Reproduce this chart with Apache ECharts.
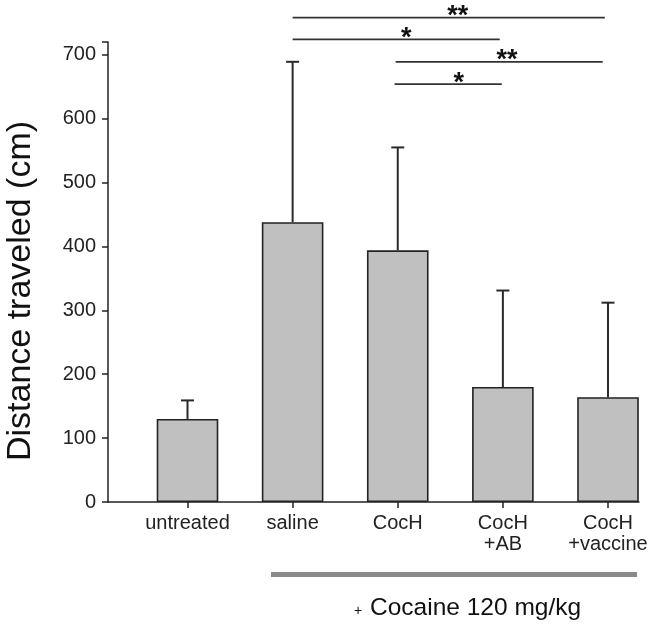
<!DOCTYPE html>
<html><head><meta charset="utf-8">
<script src="https://cdn.jsdelivr.net/npm/echarts@6/dist/echarts.min.js"></script>
<style>html,body{margin:0;padding:0;background:#fff}#c{width:652px;height:626px}</style>
</head><body><div id="c"></div>
<script>
// ---- data ----
const categories = ['untreated', 'saline', 'CocH', 'CocH\n+AB', 'CocH\n+vaccine'];
const means = [130, 438, 394, 180, 164];
const sds = [29, 251, 161, 151, 148];
const yMin = 0, yMax = 720, yStep = 100;
// significance brackets (x in category-index units, y in data units)
const sigFrom = [1.0, 1.0, 1.98, 1.97];
const sigTo = [3.97, 2.97, 3.95, 2.99];
const sigY = [758, 724, 689, 654];
const sigText = ['**', '*', '**', '*'];
const sigTextX = [2.57, 2.08, 3.04, 2.58];
const yTitle = 'Distance traveled (cm)';
const groupPlus = '+';
const groupText = 'Cocaine 120 mg/kg';

const FONT = '"Liberation Sans", Arial, sans-serif';
const chart = echarts.init(document.getElementById('c'), null, {renderer: 'canvas'});
const gridTop = 42, gridBottom = 124;

chart.setOption({
  animation: false,
  backgroundColor: '#fff',
  grid: [
    {left: 187.5, right: 44, top: gridTop, bottom: gridBottom},
    {left: 108, right: 13, top: gridTop, bottom: gridBottom}
  ],
  xAxis: [
    {
      type: 'category', gridIndex: 0, data: categories, boundaryGap: false,
      axisLine: {show: false},
      axisTick: {show: true, length: 6, alignWithLabel: true, lineStyle: {color: '#222', width: 1.5}},
      axisLabel: {fontFamily: FONT, fontSize: 20, color: '#222', margin: 11, lineHeight: 21, interval: 0}
    },
    {
      type: 'value', gridIndex: 1, min: -0.756, max: 4.295,
      axisLine: {show: true, lineStyle: {color: '#222', width: 1.5}},
      axisTick: {show: false}, axisLabel: {show: false}, splitLine: {show: false}
    }
  ],
  yAxis: [
    {
      type: 'value', gridIndex: 0, min: yMin, max: yMax, interval: yStep, offset: 79.5,
      axisLine: {show: true, lineStyle: {color: '#222', width: 1.5}},
      axisTick: {show: true, length: 6, lineStyle: {color: '#222', width: 1.5}},
      splitLine: {show: false},
      axisLabel: {
        fontFamily: FONT, fontSize: 20, color: '#222', margin: 12,
        formatter: v => (v % yStep === 0 ? String(v) : '')
      }
    },
    {type: 'value', gridIndex: 1, min: yMin, max: yMax, show: false}
  ],
  series: [
    {
      type: 'custom', xAxisIndex: 0, yAxisIndex: 0, clip: false, z: 1,
      data: means.map((m, i) => [i, m, m + sds[i]]),
      renderItem(params, api) {
        const base = api.coord([api.value(0), api.value(1)]);
        const top = api.coord([api.value(0), api.value(2)]);
        const st = {stroke: '#2a2a2a', lineWidth: 2};
        return {type: 'group', children: [
          {type: 'line', shape: {x1: top[0], y1: base[1], x2: top[0], y2: top[1]}, style: st},
          {type: 'line', shape: {x1: top[0] - 6.5, y1: top[1], x2: top[0] + 6.5, y2: top[1]}, style: st}
        ]};
      }
    },
    {
      type: 'bar', xAxisIndex: 0, yAxisIndex: 0, data: means, barWidth: 61.6, z: 2,
      itemStyle: {color: '#c0c0c0', borderColor: '#222', borderWidth: 1.6}
    },
    {
      type: 'custom', xAxisIndex: 1, yAxisIndex: 1, clip: false, z: 3,
      data: sigFrom.map((f, i) => [f, sigTo[i], sigY[i], sigTextX[i]]),
      renderItem(params, api) {
        const p1 = api.coord([api.value(0), api.value(2)]);
        const p2 = api.coord([api.value(1), api.value(2)]);
        const pt = api.coord([api.value(3), api.value(2)]);
        return {type: 'group', children: [
          {type: 'line', shape: {x1: p1[0], y1: p1[1], x2: p2[0], y2: p2[1]}, style: {stroke: '#333', lineWidth: 1.8}},
          {type: 'text', x: pt[0], y: pt[1] - 1, style: {
            text: sigText[params.dataIndex], font: 'bold 27px ' + FONT,
            fill: '#111', align: 'center', verticalAlign: 'middle'}}
        ]};
      }
    }
  ],
  graphic: [
    {type: 'text', x: 21, y: 291, rotation: Math.PI / 2,
      style: {text: yTitle, font: '34px ' + FONT, fill: '#111', align: 'center', verticalAlign: 'middle'}},
    {type: 'rect', shape: {x: 271, y: 572, width: 366, height: 5}, style: {fill: '#8a8a8a'}},
    {type: 'text', x: 358, y: 611,
      style: {text: groupPlus, font: '14px ' + FONT, fill: '#111', align: 'center', verticalAlign: 'middle'}},
    {type: 'text', x: 370, y: 608,
      style: {text: groupText, font: '24.5px ' + FONT, fill: '#111', align: 'left', verticalAlign: 'middle'}}
  ]
});
</script>
</body></html>
